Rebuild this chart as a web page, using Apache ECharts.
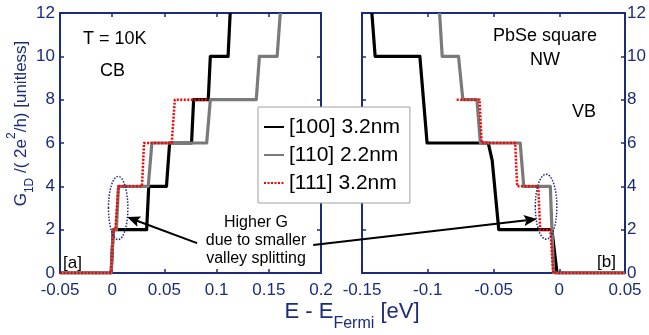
<!DOCTYPE html>
<html>
<head>
<meta charset="utf-8">
<script src="https://cdn.jsdelivr.net/npm/echarts@6/dist/echarts.min.js"></script>
<style>
  html, body { margin: 0; padding: 0; background: #fff; }
  #chart { width: 649px; height: 335px; }
</style>
</head>
<body>
<div id="chart"></div>
<script>
const NAVY = '#1c2b7a';
const FONT = '"Liberation Sans", Arial, Helvetica, sans-serif';

const seriesNames = ['[100] 3.2nm', '[110] 2.2nm', '[111] 3.2nm'];

// conduction band, panel [a]: [E - E_Fermi (eV), G]
const cb100 = [[-0.05, 0], [-0.001, 0], [0.001, 2], [0.033, 2], [0.035, 4], [0.052, 4], [0.055, 6],
  [0.076, 6], [0.078, 8], [0.092, 8], [0.094, 10], [0.111, 10], [0.113, 12]];
const cb110 = [[-0.05, 0], [-0.001, 0], [0.001, 2], [0.004, 2], [0.006, 4], [0.0345, 4], [0.038, 6],
  [0.0905, 6], [0.094, 8], [0.138, 8], [0.141, 10], [0.158, 10], [0.161, 12]];
const cb111 = [[-0.05, 0], [-0.001, 0], [0.001, 2], [0.003, 2], [0.006, 4], [0.0285, 4], [0.0305, 6],
  [0.057, 6], [0.060, 8], [0.092, 8]];

// valence band, panel [b]
const vb100 = [[-0.1425, 12], [-0.140, 10], [-0.106, 10], [-0.1005, 6], [-0.054, 6], [-0.051, 5.2],
  [-0.046, 2], [-0.0056, 2], [-0.0017, 0], [0.05, 0]];
const vb110 = [[-0.091, 12], [-0.089, 10], [-0.0766, 10], [-0.0733, 8], [-0.0626, 8], [-0.060, 6],
  [-0.0297, 6], [-0.027, 4], [-0.0068, 4], [-0.0043, 0], [0.05, 0]];
const vb111 = [[-0.078, 8], [-0.0606, 8], [-0.059, 6], [-0.0335, 6], [-0.032, 4], [-0.016, 4],
  [-0.0145, 2], [-0.0068, 2], [-0.0046, 0], [0.05, 0]];

const xRangeCB = [-0.05, 0.2];
const xRangeVB = [-0.15, 0.05];
const xStep = 0.05;
const yRange = [0, 12];
const yStep = 2;

// annotations (data units): ellipse [cx, cy, rx, ry], arrows [from, to]
const ellipseCB = [0.0057, 3.0, 0.0093, 1.46];
const ellipseVB = [-0.010, 3.06, 0.0082, 1.5];
const arrowCB = { from: [0, [0.0813, 1.38]], to: [0, [0.0143, 2.58]] };
const arrowVB = { from: [0, [0.1925, 1.29]], to: [1, [-0.017, 2.49]] };

const lineColors = ['#000000', '#7a7a7a', '#ff0000'];

const fmt = v => String(+v.toFixed(2));

const xAxisBase = (gridIndex, range, position, showLabel) => ({
  type: 'value', gridIndex, position, min: range[0], max: range[1], interval: xStep,
  axisLine: { onZero: false, lineStyle: { color: NAVY, width: 2 } },
  axisTick: { inside: true, length: 4, lineStyle: { color: NAVY, width: 1.5 } },
  axisLabel: { show: showLabel, color: NAVY, fontSize: 17, fontFamily: FONT, margin: 9,
    formatter: fmt, showMinLabel: true, showMaxLabel: true },
  splitLine: { show: false }
});

const yAxisBase = (gridIndex, position, showLabel, margin) => ({
  type: 'value', gridIndex, position, min: yRange[0], max: yRange[1], interval: yStep,
  axisLine: { onZero: false, lineStyle: { color: NAVY, width: 2 } },
  axisTick: { inside: true, length: 4, lineStyle: { color: NAVY, width: 1.5 } },
  axisLabel: { show: showLabel, color: NAVY, fontSize: 17, fontFamily: FONT, margin },
  splitLine: { show: false }
});

const makeLine = (idx, data, axis) => ({
  name: seriesNames[idx],
  type: 'line',
  xAxisIndex: axis, yAxisIndex: axis,
  data,
  symbol: 'none',
  silent: true,
  z: 2 + idx,
  color: lineColors[idx],
  lineStyle: idx === 2
    ? { color: lineColors[idx], width: 2.5, type: [2, 1.5], cap: 'butt', join: 'round' }
    : { color: lineColors[idx], width: 3.2, join: 'round' },
  emphasis: { disabled: true }
});

const makeEllipse = (data, axis) => ({
  type: 'custom',
  xAxisIndex: axis, yAxisIndex: axis,
  data: [data],
  silent: true,
  z: 6,
  renderItem: (params, api) => {
    const c = api.coord([api.value(0), api.value(1)]);
    const s = api.size([api.value(2), api.value(3)]);
    return {
      type: 'ellipse',
      shape: { cx: c[0], cy: c[1], rx: s[0], ry: s[1] },
      style: { fill: 'none', stroke: NAVY, lineWidth: 1.5, lineDash: [1.5, 1.5] }
    };
  }
});

const option = {
  animation: false,
  backgroundColor: '#fff',
  grid: [
    { left: 60, top: 13, width: 261, height: 260 },
    { left: 362, top: 13, width: 263, height: 260 }
  ],
  xAxis: [
    xAxisBase(0, xRangeCB, 'bottom', true),
    xAxisBase(1, xRangeVB, 'bottom', true),
    xAxisBase(0, xRangeCB, 'top', false),
    xAxisBase(1, xRangeVB, 'top', false)
  ],
  yAxis: [
    yAxisBase(0, 'left', true, 5),
    yAxisBase(1, 'right', true, 2),
    yAxisBase(0, 'right', false, 2),
    yAxisBase(1, 'left', false, 2)
  ],
  legend: {
    data: seriesNames,
    orient: 'vertical',
    left: 258, top: 107,
    padding: [9.5, 10, 9.5, 5],
    itemWidth: 20, itemHeight: 21, itemGap: 7,
    backgroundColor: '#fff',
    borderColor: '#a0a0a0', borderWidth: 1, borderRadius: 0,
    selectedMode: false,
    itemStyle: { opacity: 0 },
    textStyle: { fontSize: 21, fontFamily: FONT, color: '#000' },
    z: 8
  },
  series: [
    makeLine(0, cb100, 0), makeLine(1, cb110, 0), makeLine(2, cb111, 0),
    makeLine(0, vb100, 1), makeLine(1, vb110, 1), makeLine(2, vb111, 1),
    makeEllipse(ellipseCB, 0), makeEllipse(ellipseVB, 1)
  ]
};

const chart = echarts.init(document.getElementById('chart'), null, { renderer: 'canvas' });
chart.setOption(option);

const toPx = ([grid, p]) => chart.convertToPixel({ xAxisIndex: grid, yAxisIndex: grid }, p);

const arrowGraphics = (arrow) => {
  const a = toPx(arrow.from);
  const b = toPx(arrow.to);
  const dx = b[0] - a[0], dy = b[1] - a[1];
  const len = Math.hypot(dx, dy);
  const ux = dx / len, uy = dy / len;
  const hl = 13, hw = 5.5;
  const base = [b[0] - ux * hl, b[1] - uy * hl];
  const notch = [b[0] - ux * hl * 0.8, b[1] - uy * hl * 0.8];
  return [
    { type: 'line', z: 20, silent: true,
      shape: { x1: a[0], y1: a[1], x2: notch[0], y2: notch[1] },
      style: { stroke: '#000', lineWidth: 2 } },
    { type: 'polygon', z: 20, silent: true,
      shape: { points: [b, [base[0] - uy * hw, base[1] + ux * hw], notch, [base[0] + uy * hw, base[1] - ux * hw]] },
      style: { fill: '#000' } }
  ];
};

const label = (text, x, y, align, size) => ({
  type: 'text', x, y, z: 20, silent: true,
  style: { text, font: size + 'px ' + FONT, fill: '#000', textAlign: align, textVerticalAlign: 'middle' }
});

chart.setOption({
  graphic: [
    ...arrowGraphics(arrowCB),
    ...arrowGraphics(arrowVB),
    label('T = 10K', 83, 39, 'left', 18),
    label('CB', 100, 71, 'left', 18),
    label('PbSe square', 545, 36, 'center', 18),
    label('NW', 545, 60, 'center', 18),
    label('VB', 572, 112, 'left', 18),
    label('[a]', 63, 263, 'left', 17),
    label('[b]', 597, 262, 'left', 17),
    {
      type: 'text', x: 256, y: 241, z: 20, silent: true,
      style: { text: 'Higher G\ndue to smaller\nvalley splitting', font: '16px ' + FONT,
        lineHeight: 18, fill: '#000', textAlign: 'center', textVerticalAlign: 'middle' }
    },
    {
      type: 'text', x: 352, y: 312, z: 20, silent: true,
      style: {
        text: '{m|E - E}{s|Fermi}{m| [eV]}',
        textAlign: 'center', textVerticalAlign: 'middle',
        rich: {
          m: { font: '22px ' + FONT, fill: NAVY, lineHeight: 40 },
          s: { font: '16px ' + FONT, fill: NAVY, height: 16, verticalAlign: 'bottom' }
        }
      }
    },
    {
      type: 'text', x: 21, y: 123.5, rotation: Math.PI / 2, z: 20, silent: true,
      style: {
        text: '{m|G}{s|1D}{m| /( 2e}{p|2}{m|/h) [unitless]}',
        textAlign: 'center', textVerticalAlign: 'middle',
        rich: {
          m: { font: '17px ' + FONT, fill: NAVY, lineHeight: 30 },
          s: { font: '12px ' + FONT, fill: NAVY, height: 12, verticalAlign: 'bottom' },
          p: { font: '12px ' + FONT, fill: NAVY, height: 12, verticalAlign: 'top' }
        }
      }
    }
  ]
});
</script>
</body>
</html>
